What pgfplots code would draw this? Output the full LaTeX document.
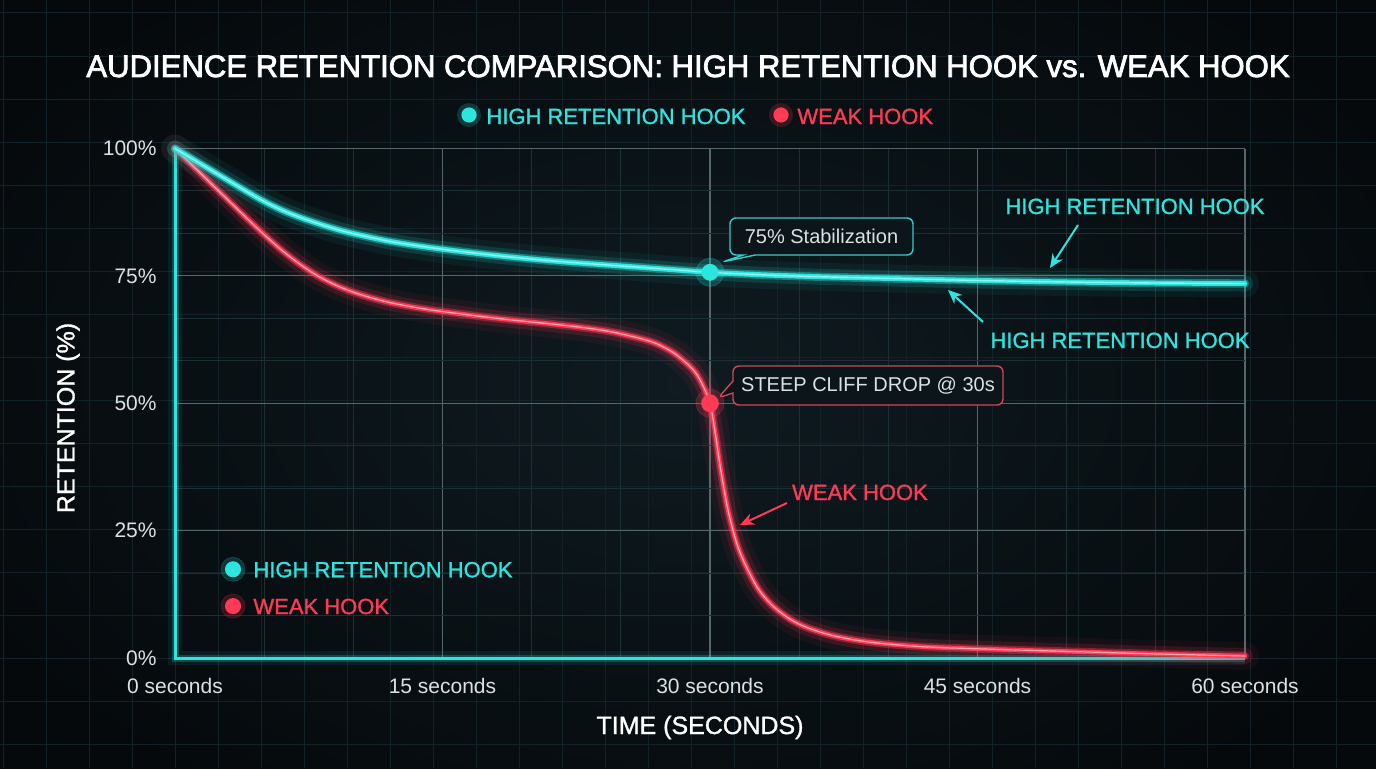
\documentclass[border=0pt]{standalone}
\usepackage{fontspec}
\setmainfont{Liberation Sans}
\newfontfamily\titlefont{Liberation Sans}[FakeBold=2.5]
\newfontfamily\labelfont{Liberation Sans}[FakeBold=1.2]
\usepackage{pgfplots}
\pgfplotsset{compat=1.18}
\usepackage{pgfplotstable}
\usetikzlibrary{arrows.meta,shapes.callouts}

\definecolor{bgdark}{HTML}{05090C}
\definecolor{bgmid}{HTML}{0F1B21}
\definecolor{hookcyan}{HTML}{2CE5DF}
\definecolor{hookred}{HTML}{FF3A55}
\definecolor{gridmaj}{HTML}{55676B}
\definecolor{gridmin}{HTML}{1B2F35}
\definecolor{bggrid}{HTML}{132228}
\definecolor{ticktext}{HTML}{DCE1E3}
\definecolor{boxfill}{HTML}{0B151A}

% retention curves (time in s, retention in %)
\pgfplotstableread{
t r
0 100
1 97.9
2 95.8
3 93.7
4 91.6
5 89.6
6 87.9
7 86.5
8 85.3
9 84.2
10 83.3
12 81.8
14 80.7
16 79.8
18 79.0
20 78.3
22 77.7
24 77.2
26 76.7
28 76.2
30 75.7
33 75.2
36 74.85
40 74.5
45 74.1
50 73.8
55 73.6
60 73.5
}\highhook

\pgfplotstableread{
t r
0 100
1 96.6
2 93.2
3 89.8
4 86.4
5 83.1
6 80.0
7 77.3
8 75.0
9 73.2
10 71.8
11 70.7
12 69.8
13 69.1
14 68.5
15 68.0
17 67.1
19 66.3
21 65.6
23 64.8
24.5 64.0
26 62.8
27 61.7
28 59.8
29 56.8
29.5 54.2
30 50
30.3 44
30.6 37
31 29.2
31.5 22.5
32 18.2
32.7 13.6
33.5 10.3
34.5 7.6
35.5 5.9
37 4.3
39 3.1
42 2.2
46 1.7
50 1.3
55 0.8
60 0.4
}\weakhook

\pgfplotsset{
  glow/.style={#1, smooth, tension=0.5, line cap=round, line join=round, forget plot},
}

\begin{document}
\begin{tikzpicture}[x=1pt,y=1pt]
\path[use as bounding box] (0,0) rectangle (688,384);
\clip (0,0) rectangle (688,384);
\shade[inner color=bgmid, outer color=bgdark] (-60,-60) rectangle (748,444);
\draw[bggrid, line width=0.5pt, shift={(87.5pt,55pt)}, step=21.5pt] (-87.5pt,-55pt) grid (600.5pt,329pt);

\begin{axis}[
  at={(87.5pt,55pt)}, anchor=south west,
  scale only axis, width=535pt, height=254.75pt,
  xmin=0, xmax=60, ymin=0, ymax=100,
  axis lines=left, axis line style={draw=none},
  major tick length=0pt, minor tick length=0pt,
  xtick={0,15,30,45,60},
  xticklabels={0 seconds,15 seconds,30 seconds,45 seconds,60 seconds},
  ytick={0,25,50,75,100},
  yticklabels={0\%,25\%,50\%,75\%,100\%},
  minor x tick num=2, minor y tick num=2,
  grid=both,
  major grid style={gridmaj, line width=0.6pt},
  minor grid style={gridmin, line width=0.5pt},
  tick label style={ticktext, font=\fontsize{10.5}{12}\selectfont},
  xticklabel style={anchor=base, yshift=-17.5pt},
  yticklabel style={anchor=east, xshift=-5.7pt},
  clip=false,
  legend style={draw=none, fill=none, at={(axis cs:2.2,13.8)}, anchor=west,
    font=\labelfont\fontsize{11}{13}\selectfont, row sep=6pt,
    nodes={inner sep=0pt, text height=8pt, text depth=0pt}},
  legend cell align=left,
  legend image code/.code={\fill[#1, opacity=0.18] (3.8pt,0pt) circle (6pt);
    \fill[#1] (3.8pt,0pt) circle (3.8pt);},
  /tikz/every odd column/.append style={column sep=4pt},
]
\addlegendimage{hookcyan}
\addlegendentry{\textcolor{hookcyan}{HIGH RETENTION HOOK}}
\addlegendimage{hookred}
\addlegendentry{\textcolor{hookred}{WEAK HOOK}}

% glowing axis lines
\draw[hookcyan, line width=7pt, opacity=0.08] (axis cs:0,100) -- (axis cs:0,0) -- (axis cs:60,0);
\draw[hookcyan, line width=3.5pt, opacity=0.22] (axis cs:0,100) -- (axis cs:0,0) -- (axis cs:60,0);
\draw[hookcyan, line width=1.5pt] (axis cs:0,100) -- (axis cs:0,0) -- (axis cs:60,0);

% weak hook
\addplot[glow={hookred, line width=14pt, opacity=0.06}] table[x=t,y=r]{\weakhook};
\addplot[glow={hookred, line width=8pt, opacity=0.14}] table[x=t,y=r]{\weakhook};
\addplot[glow={hookred, line width=4pt, opacity=0.38}] table[x=t,y=r]{\weakhook};
\addplot[glow={hookred, line width=2.2pt}] table[x=t,y=r]{\weakhook};
\addplot[glow={hookred!45!white, line width=0.6pt}] table[x=t,y=r]{\weakhook};

% high retention hook
\addplot[glow={hookcyan, line width=14pt, opacity=0.06}] table[x=t,y=r]{\highhook};
\addplot[glow={hookcyan, line width=8pt, opacity=0.14}] table[x=t,y=r]{\highhook};
\addplot[glow={hookcyan, line width=4.2pt, opacity=0.38}] table[x=t,y=r]{\highhook};
\addplot[glow={hookcyan, line width=2.5pt}] table[x=t,y=r]{\highhook};
\addplot[glow={hookcyan!50!white, line width=0.7pt}] table[x=t,y=r]{\highhook};

% highlighted points at 30 s
\addplot[forget plot, only marks, mark=*, mark size=7pt, hookcyan, opacity=0.2] coordinates {(30,75.7)};
\addplot[forget plot, only marks, mark=*, mark size=4pt, hookcyan] coordinates {(30,75.7)};
\addplot[forget plot, only marks, mark=*, mark size=7pt, hookred, opacity=0.2] coordinates {(30,50)};
\addplot[forget plot, only marks, mark=*, mark size=4.2pt, hookred] coordinates {(30,50)};
\end{axis}

% title
\node[anchor=base, white, font=\titlefont\fontsize{15.55}{19}\selectfont] at (344,345.5)
  {AUDIENCE RETENTION COMPARISON: HIGH RETENTION HOOK vs. WEAK HOOK};

% top legend
\fill[hookcyan, opacity=0.18] (234.5,326.5) circle (6pt);
\fill[hookcyan] (234.5,326.5) circle (3.8pt);
\node[anchor=base west, inner sep=0pt, hookcyan, font=\labelfont\fontsize{11}{13}\selectfont] at (243,322) {HIGH RETENTION HOOK};
\fill[hookred, opacity=0.18] (390.5,326.5) circle (6pt);
\fill[hookred] (390.5,326.5) circle (3.8pt);
\node[anchor=base west, inner sep=0pt, hookred, font=\labelfont\fontsize{11}{13}\selectfont] at (398.5,322) {WEAK HOOK};

% axis titles
\node[rotate=90, white, font=\labelfont\fontsize{12.5}{15}\selectfont] at (34,175) {RETENTION (\%)};
\node[anchor=base, white, font=\labelfont\fontsize{12.5}{15}\selectfont] at (350,17) {TIME (SECONDS)};

% callouts
\node[rectangle callout, rounded corners=3pt, draw=hookcyan!80!gridmaj, fill=boxfill, line width=0.7pt,
  callout absolute pointer={(361pt,253pt)}, callout pointer width=6pt,
  minimum width=91.5pt, minimum height=18.5pt, text=ticktext,
  font=\fontsize{10}{12}\selectfont] at (410.75,265.75) {75\% Stabilization};
\node[rectangle callout, rounded corners=3pt, draw=hookred!75!gridmaj, fill=boxfill, line width=0.7pt,
  callout absolute pointer={(359pt,185pt)}, callout pointer width=6pt,
  minimum width=135pt, minimum height=19.5pt, text=ticktext,
  font=\fontsize{10}{12}\selectfont] at (434,191.25) {STEEP CLIFF DROP @ 30s};

% arrow labels
\node[anchor=base, hookcyan, font=\labelfont\fontsize{11}{13}\selectfont] at (567.5,277) {HIGH RETENTION HOOK};
\draw[hookcyan, line width=1pt, -{Stealth[length=7pt,width=6pt]}] (539,271.5) -- (525,250);
\node[anchor=base, hookcyan, font=\labelfont\fontsize{11}{13}\selectfont] at (560,210) {HIGH RETENTION HOOK};
\draw[hookcyan, line width=1pt, -{Stealth[length=7pt,width=6pt]}] (491.5,223) -- (474,239);
\node[anchor=base, hookred, font=\labelfont\fontsize{11}{13}\selectfont] at (430,134) {WEAK HOOK};
\draw[hookred, line width=1pt, -{Stealth[length=7pt,width=6pt]}] (393.5,132.5) -- (370,121.5);
\end{tikzpicture}
\end{document}
